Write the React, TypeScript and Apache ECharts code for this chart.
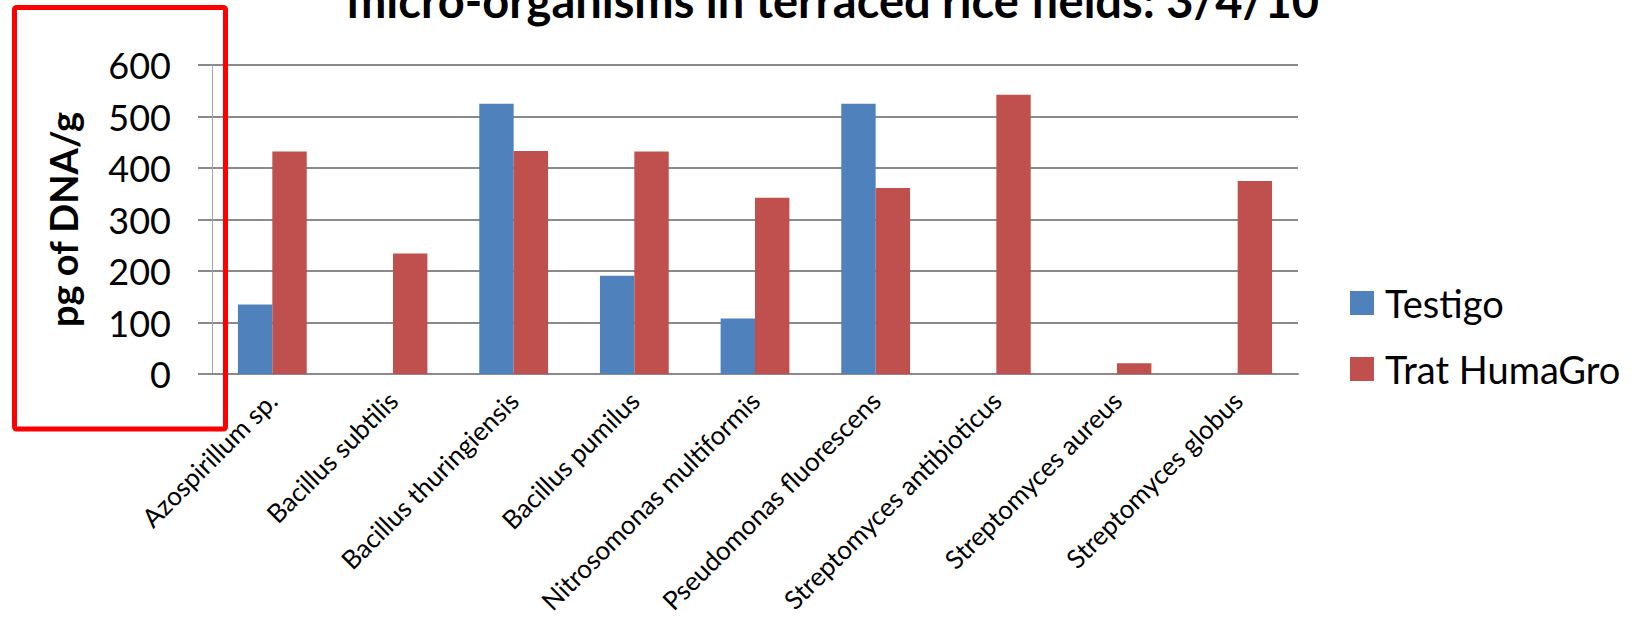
import React, { useEffect, useRef } from "react";
import * as echarts from "echarts";

// Organisms sampled in the terraced rice fields
const categories = [
  "Azospirillum sp.",
  "Bacillus subtilis",
  "Bacillus thuringiensis",
  "Bacillus pumilus",
  "Nitrosomonas multiformis",
  "Pseudomonas fluorescens",
  "Streptomyces antibioticus",
  "Streptomyces aureus",
  "Streptomyces globus",
];

// pg of DNA per gram, control plot
const testigo = [135, 0, 525, 191, 108, 525, 0, 0, 0];
// pg of DNA per gram, HumaGro-treated plot
const tratHumaGro = [432, 234, 433, 432, 342, 361, 542, 21, 375];

const yTicks = { min: 0, max: 600, interval: 100 };

const titleText = "micro-organisms in terraced rice fields: 3/4/10";
const yAxisTitle = "pg of DNA/g";
const seriesNames = ["Testigo", "Trat HumaGro"];

const FONT = "Lato, 'DejaVu Sans', sans-serif";

export default function App() {
  const ref = useRef<HTMLDivElement>(null);

  useEffect(() => {
    if (!ref.current) return;
    const chart = echarts.init(ref.current, undefined, { renderer: "svg" });
    chart.setOption({
      animation: false,
      backgroundColor: "#ffffff",
      textStyle: { fontFamily: FONT },
      grid: {
        left: 212,
        right: 334,
        top: 65,
        bottom: 252,
        containLabel: false,
        outerBoundsMode: "none",
      },
      legend: {
        orient: "vertical",
        left: 1345,
        top: 279,
        itemWidth: 24,
        itemHeight: 24,
        itemGap: 28,
        icon: "rect",
        textStyle: {
          fontFamily: FONT,
          fontSize: 38,
          color: "#000",
          padding: [0, 0, 0, 6],
        },
        data: seriesNames,
      },
      graphic: [
        {
          type: "text",
          x: 833,
          y: 0,
          style: {
            text: titleText,
            fontFamily: FONT,
            fontWeight: "bold",
            fontSize: 47,
            fill: "#000",
            textAlign: "center",
            textVerticalAlign: "middle",
          },
          z: 10,
        },
        {
          type: "rect",
          shape: { x: 14.5, y: 7.5, width: 211, height: 421.5, r: 2 },
          style: { fill: "none", stroke: "#ff0000", lineWidth: 5 },
          z: 20,
        },
      ],
      xAxis: {
        type: "category",
        data: categories,
        axisLine: { show: true, lineStyle: { color: "#8a8a8a", width: 2 } },
        axisTick: { show: false },
        axisLabel: {
          rotate: 45,
          interval: 0,
          margin: 22,
          fontFamily: FONT,
          fontSize: 26,
          color: "#000",
        },
        splitLine: { show: false },
      },
      yAxis: {
        type: "value",
        min: yTicks.min,
        max: yTicks.max,
        interval: yTicks.interval,
        name: yAxisTitle,
        nameLocation: "middle",
        nameRotate: 90,
        nameGap: 130,
        nameTextStyle: {
          fontFamily: FONT,
          fontWeight: "bold",
          fontSize: 38,
          color: "#000",
        },
        axisLine: { show: true, lineStyle: { color: "#a6a6a6", width: 1 } },
        axisTick: {
          show: true,
          length: 14,
          lineStyle: { color: "#8a8a8a", width: 2 },
        },
        axisLabel: {
          margin: 41,
          fontFamily: FONT,
          fontSize: 36,
          color: "#000",
        },
        splitLine: { show: true, lineStyle: { color: "#8a8a8a", width: 2 } },
      },
      series: [
        {
          name: seriesNames[0],
          type: "bar",
          data: testigo,
          barGap: "0%",
          barCategoryGap: "43%",
          itemStyle: { color: "#4f81bd" },
        },
        {
          name: seriesNames[1],
          type: "bar",
          data: tratHumaGro,
          barGap: "0%",
          barCategoryGap: "43%",
          itemStyle: { color: "#c0504d" },
        },
      ],
    });
    return () => chart.dispose();
  }, []);

  return (
    <div
      ref={ref}
      style={{ position: "fixed", left: 0, top: 0, width: 1632, height: 626 }}
    />
  );
}
